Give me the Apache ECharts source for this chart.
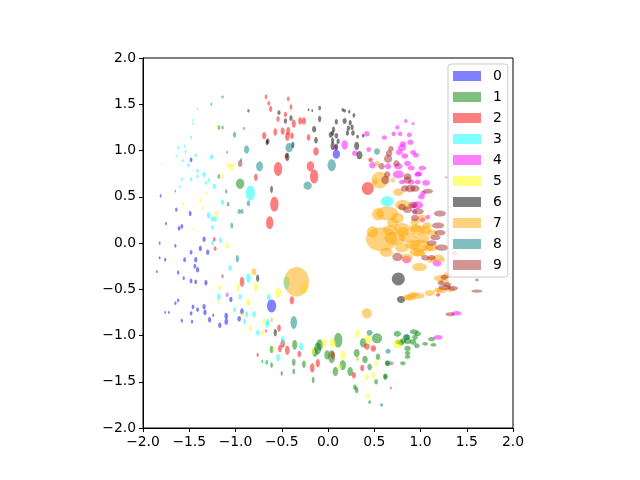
<!DOCTYPE html>
<html>
<head>
<meta charset="utf-8">
<script src="https://cdn.jsdelivr.net/npm/echarts@6/dist/echarts.min.js"></script>
<style>html,body{margin:0;padding:0;background:#fff;}#chart{width:640px;height:480px;}</style>
</head>
<body>
<div id="chart"></div>
<script>
// each entry: [x, y, width, height] of an ellipse in data units
var labels = ['0','1','2','3','4','5','6','7','8','9'];
var colors = ['rgba(0,0,255,0.5)','rgba(0,128,0,0.5)','rgba(255,0,0,0.5)','rgba(0,255,255,0.5)','rgba(255,0,255,0.5)','rgba(255,255,0,0.5)','rgba(0,0,0,0.5)','rgba(255,165,0,0.5)','rgba(0,128,128,0.5)','rgba(165,42,42,0.5)'];
var xTicks = [-2,-1.5,-1,-0.5,0,0.5,1,1.5,2];
var yTicks = [-2,-1.5,-1,-0.5,0,0.5,1,1.5,2];

var c0 = [[-1.81,0.51,.02,.04],[-1.49,0.32,.03,.06],[-1.64,0.36,.025,.045],[-1.75,0.21,.02,.04],[-1.61,0.16,.03,.05],[-1.58,0.18,.03,.05],[-1.34,0.04,.035,.06],[-1.82,0.0,.02,.04],[-1.65,-0.03,.025,.04],[-1.48,-0.10,.03,.05],[-1.38,-0.06,.035,.06],[-1.30,-0.10,.035,.06],[-1.82,-0.16,.02,.035],[-1.76,-0.18,.025,.04],[-1.55,-0.18,.03,.05],[-1.43,-0.18,.035,.06],[-1.44,-0.25,.03,.05],[-1.41,-0.29,.035,.06],[-1.85,-0.31,.02,.03],[-1.62,-0.32,.025,.045],[-1.56,-0.38,.025,.04],[-1.48,-0.41,.03,.05],[-1.43,-0.42,.03,.05],[-1.32,-0.43,.035,.06],[-1.05,-0.61,.035,.06],[-1.62,-0.62,.025,.04],[-1.65,-0.65,.025,.04],[-1.46,-0.69,.03,.05],[-1.34,-0.69,.035,.06],[-1.33,-0.75,.035,.06],[-1.41,-0.72,.03,.05],[-1.48,-0.76,.03,.045],[-1.28,-0.83,.035,.06],[-1.58,-0.84,.025,.04],[-1.47,-0.85,.025,.04],[-1.17,-0.89,.035,.06],[-1.10,-0.79,.04,.07],[-1.10,-0.85,.04,.07],[-0.96,-0.82,.04,.06],[-0.93,-0.74,.04,.07],[-1.72,-0.75,.02,.03],[-1.76,-0.75,.02,.03],[-1.48,0.90,.03,.05],[0.09,0.96,.08,.10],[-0.61,-0.68,.10,.14]];
var c1 = [[-0.95,0.64,.09,.11],[-1.18,1.25,.03,.05],[0.75,-0.98,.08,.065],[0.93,-0.96,.09,.055],[0.97,-0.98,.07,.05],[0.85,-1.02,.08,.06],[0.81,-1.06,.07,.06],[0.86,-1.06,.08,.07],[0.92,-1.07,.07,.06],[0.94,-1.02,.06,.06],[0.86,-1.14,.07,.06],[0.96,-1.11,.06,.05],[1.05,-1.09,.065,.04],[1.14,-1.10,.065,.04],[1.12,-1.04,.075,.045],[0.86,-1.19,.06,.045],[0.86,-1.23,.06,.045],[0.81,-1.30,.06,.045],[0.65,-1.30,.065,.06],[0.62,-1.44,.05,.06],[0.79,-1.08,.06,.06],[0.76,-1.07,.06,.05],[0.53,-1.03,.11,.11],[0.38,-1.08,.07,.10],[0.11,-1.05,.09,.16],[0.04,-1.23,.075,.14],[-0.11,-1.14,.075,.13],[-0.09,-1.10,.07,.12],[-0.14,-1.18,.06,.10],[-0.01,-1.21,.06,.10],[0.16,-1.32,.07,.11],[0.08,-1.39,.06,.10],[0.24,-1.39,.06,.10],[0.31,-1.19,.065,.09],[0.40,-1.26,.06,.08],[0.45,-1.34,.05,.07],[0.54,-1.23,.05,.07],[0.52,-1.50,.04,.06],[0.62,-1.45,.04,.06],[0.64,-1.30,.05,.06],[0.31,-1.59,.04,.07],[0.29,-1.56,.04,.06],[0.45,-1.72,.03,.04],[-0.36,-1.10,.055,.11],[-0.37,-1.29,.04,.08],[-0.37,-1.39,.03,.06],[-0.26,-1.31,.04,.08],[-0.16,-1.48,.03,.07],[-0.61,-1.15,.04,.08],[-0.61,-1.32,.03,.06],[-0.66,-1.29,.025,.05],[-0.71,-1.28,.02,.04],[-0.50,-1.41,.025,.05]];
var c2 = [[-0.67,1.58,.03,.05],[-0.64,1.51,.03,.05],[-0.62,1.45,.035,.065],[-0.43,1.56,.03,.05],[-0.40,1.47,.03,.06],[-0.54,1.34,.035,.065],[-0.46,1.39,.035,.06],[-0.37,1.29,.045,.09],[-0.30,1.32,.045,.08],[-0.26,1.32,.045,.08],[-0.57,1.20,.04,.08],[-0.49,1.21,.045,.08],[-0.43,1.21,.045,.09],[-0.44,1.15,.05,.09],[-0.39,1.16,.04,.07],[-0.21,1.14,.04,.07],[-0.13,0.99,.06,.09],[-0.54,0.80,.09,.15],[-0.19,0.83,.08,.11],[-0.15,0.72,.09,.15],[-0.45,0.94,.04,.06],[0.46,0.90,.05,.05],[-0.69,1.16,.045,.08],[-0.91,1.24,.02,.035],[-0.78,0.71,.04,.08],[0.43,0.59,.13,.14],[-0.58,0.42,.09,.16],[-0.63,0.22,.08,.14],[-0.39,-0.62,.05,.09],[-0.93,-0.42,.05,.11],[-1.22,-0.06,.03,.05],[-1.23,0.04,.03,.05],[-1.65,0.56,.015,.03],[1.19,-0.56,.05,.04],[-0.53,-0.92,.04,.08],[-0.44,-1.16,.05,.10],[-0.52,-1.14,.04,.08],[-0.31,-1.20,.04,.07],[-0.17,-1.35,.05,.10],[-0.11,-1.30,.045,.09],[0.05,-1.21,.045,.08],[0.28,-1.43,.045,.07],[0.37,-1.35,.045,.07],[0.42,-1.12,.06,.07],[0.49,-1.14,.06,.07],[0.68,-1.57,.02,.03],[-0.67,-0.95,.02,.04],[-0.49,-1.09,.05,.09]];
var c3 = [[-1.41,1.45,.015,.03],[-1.46,1.33,.015,.03],[-1.46,1.29,.015,.03],[-1.48,1.14,.02,.04],[-1.62,1.03,.02,.035],[-1.55,1.05,.02,.035],[-1.54,0.99,.02,.035],[-1.64,0.94,.015,.03],[-1.57,0.89,.02,.035],[-1.51,0.84,.025,.04],[-1.43,0.95,.025,.04],[-1.26,0.93,.035,.06],[-1.79,0.85,.01,.02],[-1.41,0.78,.025,.05],[-1.34,0.74,.035,.06],[-1.41,0.72,.025,.04],[-1.48,0.69,.025,.04],[-1.58,0.69,.02,.035],[-1.29,0.68,.025,.045],[-1.60,0.61,.02,.035],[-1.23,0.61,.035,.06],[-1.32,0.65,.025,.04],[-1.14,0.44,.035,.06],[-1.29,0.30,.04,.07],[-1.25,0.26,.035,.06],[-1.22,0.26,.035,.06],[-1.25,0.17,.03,.05],[-1.16,0.03,.035,.065],[-1.25,0.0,.03,.055],[-1.06,-0.27,.035,.065],[-0.86,-0.38,.05,.10],[-0.95,-0.58,.035,.06],[-1.18,-0.58,.04,.07],[-0.84,0.54,.10,.16],[-0.45,-0.43,.065,.14],[0.64,0.45,.14,.11],[-0.64,-0.59,.04,.08],[-0.65,-0.85,.035,.07],[-0.49,-1.05,.04,.09],[-0.54,-1.24,.04,.08],[-0.29,-1.12,.045,.09],[-0.67,-1.29,.03,.055],[-1.01,-0.72,.03,.055],[-0.88,-0.77,.035,.065],[-0.80,-0.77,.04,.07],[-0.90,-0.85,.03,.06],[-0.76,-0.97,.035,.065],[-0.66,-0.88,.04,.07]];
var c4 = [[0.84,1.32,.04,.04],[0.92,1.29,.035,.03],[0.75,1.25,.045,.045],[0.78,1.18,.05,.05],[0.88,1.17,.055,.05],[0.81,1.07,.075,.06],[0.89,1.09,.065,.06],[0.80,1.03,.09,.07],[0.83,0.94,.075,.06],[0.92,0.98,.065,.05],[0.95,0.95,.065,.05],[0.76,0.83,.09,.065],[0.90,0.81,.075,.055],[1.02,0.81,.085,.05],[0.65,0.83,.065,.065],[0.76,0.74,.12,.085],[0.97,0.74,.075,.05],[0.42,1.18,.06,.06],[0.61,1.14,.055,.05],[0.71,1.18,.05,.05],[0.44,1.01,.05,.055],[0.77,0.98,.075,.06],[0.86,0.86,.075,.06],[0.98,0.75,.075,.05],[0.90,0.66,.075,.055],[1.06,0.65,.085,.06],[0.97,0.66,.065,.05],[0.80,0.66,.065,.05],[1.01,0.50,.075,.06],[1.03,0.54,.065,.05],[0.92,0.40,.065,.05],[0.18,1.06,.07,.10],[0.08,1.03,.045,.065],[0.29,0.97,.06,.06],[0.48,0.84,.07,.07],[0.97,0.41,.12,.085],[0.85,-0.18,.095,.08],[1.18,-0.22,.095,.07],[1.08,0.28,.05,.05],[0.94,0.34,.05,.05],[1.02,0.25,.06,.05],[1.39,-0.76,.11,.05],[1.19,-1.02,.10,.05],[0.69,-1.30,.03,.045],[-1.09,-0.56,.03,.05]];
var c5 = [[-1.32,0.54,.02,.04],[-1.57,0.43,.02,.035],[-1.38,0.46,.025,.04],[-1.35,0.38,.025,.045],[-1.21,0.31,.035,.065],[-1.45,0.15,.02,.04],[-1.09,-0.03,.035,.07],[-1.17,-0.48,.03,.05],[-0.97,-0.48,.035,.08],[-0.86,-0.64,.045,.08],[-0.78,-0.48,.05,.09],[-1.19,1.25,.025,.045],[-1.14,0.72,.03,.06],[-1.07,0.84,.04,.06],[-1.04,0.82,.04,.08],[-0.93,-0.78,.035,.06],[-0.84,-0.92,.035,.06],[-0.69,-0.85,.035,.065],[-0.71,-0.97,.035,.06],[-1.18,-0.64,.025,.04],[-0.54,-0.54,.065,.11],[-0.26,-0.49,.075,.11],[-0.59,-1.15,.025,.05],[-0.16,-1.17,.04,.07],[-0.04,-1.08,.05,.09],[0.05,-1.08,.07,.10],[0.16,-1.21,.05,.10],[0.13,-1.34,.04,.07],[0.32,-0.98,.05,.08],[0.43,-1.04,.07,.10],[0.42,-1.45,.04,.07],[0.49,-1.43,.04,.07],[0.52,-1.30,.04,.07],[0.43,-1.65,.035,.06],[0.75,-1.09,.09,.10]];
var c6 = [[-0.53,1.41,.035,.05],[-0.46,1.32,.035,.06],[-0.40,1.35,.035,.06],[-0.21,1.44,.02,.03],[-0.17,1.43,.02,.03],[-0.09,1.46,.03,.05],[-0.09,1.34,.035,.07],[-0.15,1.23,.045,.07],[-0.13,1.11,.04,.07],[-0.38,1.06,.035,.07],[-0.44,0.93,.045,.09],[-0.65,1.10,.035,.065],[0.16,1.44,.03,.04],[0.18,1.43,.03,.04],[0.23,1.42,.025,.04],[0.28,1.38,.03,.05],[0.09,1.31,.035,.06],[0.18,1.32,.045,.065],[0.24,1.30,.035,.06],[0.26,1.25,.035,.06],[0.22,1.24,.035,.06],[0.27,1.19,.04,.06],[0.21,1.19,.035,.06],[0.06,1.23,.035,.06],[0.05,1.19,.035,.06],[0.03,1.17,.045,.065],[0.09,1.16,.04,.06],[0.32,1.15,.03,.04],[0.38,1.16,.03,.04],[0.05,1.11,.035,.06],[0.11,1.10,.035,.06],[0.05,1.05,.045,.09],[0.09,1.04,.04,.07],[0.31,1.05,.055,.09],[0.34,0.95,.065,.09],[-0.86,1.43,.025,.04],[-0.66,1.09,.03,.065],[-0.61,0.58,.03,.08],[0.76,-0.39,.14,.14],[0.79,-0.61,.09,.075],[-0.76,-0.38,.035,.08],[-1.24,-0.78,.02,.035],[-0.57,-0.97,.035,.08]];
var c7 = [[-0.34,-0.42,.27,.32],[0.58,0.04,.34,.26],[0.64,0.32,.24,.15],[0.54,0.31,.13,.13],[0.75,0.27,.14,.11],[0.72,0.05,.22,.14],[0.80,0.16,.17,.11],[0.97,0.14,.17,.11],[0.86,0.06,.19,.11],[1.02,0.05,.15,.10],[0.99,-0.03,.21,.13],[0.80,-0.05,.15,.10],[0.96,-0.10,.16,.09],[1.12,-0.05,.13,.08],[1.19,-0.16,.11,.07],[0.99,-0.26,.16,.09],[1.12,-0.18,.11,.07],[0.85,-0.16,.13,.09],[0.97,-0.57,.15,.065],[1.10,-0.54,.11,.065],[1.19,-0.51,.09,.055],[0.92,-0.56,.11,.06],[0.86,-0.59,.11,.06],[1.02,0.27,.10,.07],[0.94,0.23,.10,.07],[1.07,0.19,.10,.07],[0.51,0.66,.06,.06],[0.56,0.68,.18,.18],[0.76,0.55,.11,.08],[0.81,0.41,.17,.11],[0.70,0.68,.05,.05],[0.53,0.86,.06,.055],[0.67,0.14,.15,.11],[0.81,0.12,.14,.10],[0.94,0.16,.12,.09],[1.05,0.14,.13,.09],[1.12,0.11,.12,.07],[0.92,-0.02,.16,.10],[0.99,-0.11,.13,.07],[1.08,-0.05,.12,.07],[1.24,-0.18,.05,.05],[1.21,-0.38,.13,.065],[1.29,-0.35,.10,.06],[1.23,-0.51,.11,.065],[1.32,-0.50,.10,.06],[0.89,-0.59,.13,.065],[1.26,-0.42,.10,.06],[0.48,0.12,.12,.12],[0.63,-0.10,.14,.10],[0.70,0.22,.12,.10],[0.42,-0.76,.11,.11],[-0.80,-0.31,.055,.075],[-0.61,-0.83,.03,.05],[0.32,-1.25,.03,.05]];
var c8 = [[-1.14,1.58,.025,.035],[-1.26,1.50,.02,.035],[-1.14,1.25,.025,.04],[-1.01,1.17,.035,.065],[-0.88,1.01,.055,.09],[-1.09,0.98,.02,.035],[-0.94,0.90,.025,.04],[-0.74,0.83,.075,.11],[-1.18,0.72,.03,.05],[-0.42,1.03,.08,.10],[0.04,0.84,.09,.13],[0.53,0.99,.065,.07],[-0.22,0.62,.09,.09],[-1.10,0.56,.025,.05],[-1.08,0.42,.03,.05],[-0.96,0.34,.035,.055],[-0.93,0.34,.035,.055],[-0.86,0.43,.035,.065],[-1.04,0.19,.03,.065],[-0.98,-0.17,.035,.08],[-0.37,-0.86,.07,.14],[0.45,-0.97,.065,.065],[0.65,-1.17,.055,.055],[0.58,-1.75,.035,.035],[0.85,-1.01,.06,.05]];
var c9 = [[0.65,0.91,.09,.09],[0.66,0.97,.07,.07],[0.74,0.86,.07,.07],[0.58,0.83,.07,.07],[0.68,1.02,.06,.06],[0.86,0.68,.09,.08],[0.89,0.59,.11,.08],[0.94,0.59,.10,.07],[1.08,0.56,.11,.055],[0.83,0.59,.085,.07],[0.92,0.41,.10,.07],[0.80,0.39,.085,.07],[0.86,0.36,.10,.07],[0.97,0.34,.13,.065],[1.21,0.32,.13,.065],[0.62,0.68,.09,.09],[1.28,0.71,.025,.02],[0.94,0.27,.085,.07],[1.19,0.19,.13,.065],[1.21,0.11,.12,.06],[1.16,0.06,.11,.06],[1.12,0.0,.11,.06],[1.23,-0.05,.14,.065],[0.75,-0.15,.11,.09],[1.05,-0.16,.085,.06],[1.26,-0.37,.085,.055],[1.29,-0.45,.085,.05],[1.22,-0.43,.07,.05],[1.12,-0.16,.085,.06],[1.37,-0.11,.05,.05],[1.26,-0.48,.13,.055],[1.35,-0.49,.11,.05],[1.61,-0.40,.035,.03],[1.61,-0.52,.12,.035],[1.32,-0.77,.10,.045],[0.64,0.74,.07,.07],[0.86,0.72,.085,.07],[-0.95,0.86,.05,.075],[-1.14,-0.36,.025,.045],[-0.76,-1.21,.025,.045]];

var classes = [c0,c1,c2,c3,c4,c5,c6,c7,c8,c9];

function fmt(v){ var s = v.toFixed(1); return v < 0 ? '\u2212' + s.slice(1) : s; }

var series = classes.map(function(arr, i){
  return {
    type: 'custom',
    name: labels[i],
    data: arr,
    encode: {x: 0, y: 1},
    itemStyle: {color: colors[i]},
    animation: false,
    silent: true,
    renderItem: function(params, api){
      var c = api.coord([api.value(0), api.value(1)]);
      var s = api.size([api.value(2), api.value(3)]);
      return {
        type: 'ellipse',
        shape: {cx: c[0], cy: c[1], rx: Math.abs(s[0]) / 2, ry: Math.abs(s[1]) / 2},
        style: {fill: colors[i]}
      };
    }
  };
});

var chart = echarts.init(document.getElementById('chart'), null, {renderer: 'canvas'});
chart.setOption({
  animation: false,
  backgroundColor: '#fff',
  textStyle: {fontFamily: 'DejaVu Sans'},
  grid: {left: 143, top: 58, width: 370, height: 370, show: true, borderColor: '#000', borderWidth: 1, backgroundColor: 'transparent'},
  xAxis: {
    type: 'value', min: xTicks[0], max: xTicks[xTicks.length-1], interval: 0.5,
    axisLine: {show: true, onZero: false, lineStyle: {color: '#000', width: 1}},
    axisTick: {show: true, length: 4, lineStyle: {color: '#000'}},
    axisLabel: {formatter: fmt, color: '#000', fontSize: 13.9, margin: 7, fontFamily: 'DejaVu Sans'},
    splitLine: {show: false}
  },
  yAxis: {
    type: 'value', min: yTicks[0], max: yTicks[yTicks.length-1], interval: 0.5,
    axisLine: {show: true, onZero: false, lineStyle: {color: '#000', width: 1}},
    axisTick: {show: true, length: 4, lineStyle: {color: '#000'}},
    axisLabel: {formatter: fmt, color: '#000', fontSize: 13.9, margin: 7, fontFamily: 'DejaVu Sans'},
    splitLine: {show: false}
  },
  legend: {
    show: true,
    orient: 'vertical',
    left: 448, top: 64,
    data: labels.map(function(l, i){ return {name: l, icon: 'rect', itemStyle: {color: colors[i]}}; }),
    itemWidth: 28, itemHeight: 10, itemGap: 7,
    padding: [5, 6, 5, 5],
    backgroundColor: 'rgba(255,255,255,0.8)',
    borderColor: '#cccccc', borderWidth: 1, borderRadius: 3,
    selectedMode: false,
    textStyle: {fontFamily: 'DejaVu Sans', fontSize: 13.9, color: '#000', lineHeight: 14, padding: [0, 0, 0, 7]}
  },
  series: series
});
</script>
</body>
</html>
